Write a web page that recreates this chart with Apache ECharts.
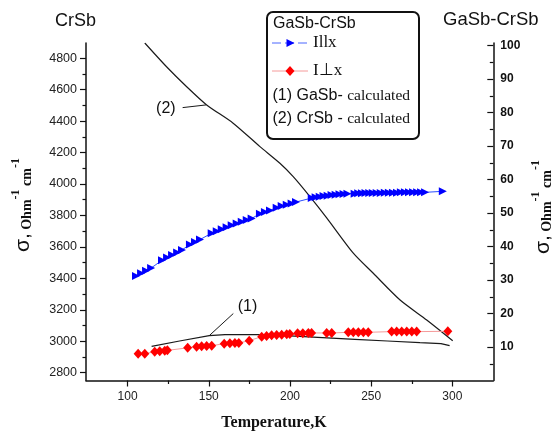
<!DOCTYPE html>
<html>
<head>
<meta charset="utf-8">
<script src="https://cdn.jsdelivr.net/npm/echarts@6/dist/echarts.min.js"></script>
<style>
  html, body { margin: 0; padding: 0; background: #fff; }
  #chart { width: 554px; height: 434px; }
</style>
</head>
<body>
<div id="chart"></div>
<script>
// GaSb-CrSb, current parallel to x (right axis)
const parallelTemperature = [
  105.2, 108.3, 111.4, 114.5,
  121.2, 124.3, 127.4, 130.5, 133.5,
  138.4, 141.5, 144.6,
  151.8, 154.9, 158.0, 161.0, 164.1, 167.2, 170.3, 173.4, 176.4,
  181.5, 184.6, 187.7,
  191.8, 194.9, 198.0, 201.0, 203.7,
  213.4, 215.8, 218.3, 220.7, 223.2, 225.6, 228.1, 230.5, 233.0, 235.4,
  239.8, 242.0, 244.3, 246.5, 248.8, 251.0,
  253.4, 255.9, 258.4, 260.9, 263.4, 265.9, 268.3, 270.8, 273.3, 275.8, 278.3, 280.7, 283.2,
  294.1
];
const parallelSigma = [
  31.2, 32.0, 32.8, 33.6,
  35.9, 36.7, 37.5, 38.2, 39.0,
  40.6, 41.4, 42.1,
  44.0, 44.6, 45.2, 45.8, 46.4, 46.9, 47.4, 47.9, 48.4,
  49.8, 50.3, 50.8,
  51.6, 52.1, 52.5, 52.9, 53.3,
  54.5, 54.7, 54.9, 55.1, 55.2, 55.4, 55.5, 55.6, 55.7, 55.8,
  55.8, 55.9, 55.9, 56.0, 56.0, 56.0,
  56.0, 56.0, 56.1, 56.1, 56.1, 56.1, 56.2, 56.2, 56.2, 56.2, 56.2, 56.2, 56.2,
  56.5
];

// GaSb-CrSb, current perpendicular to x (right axis)
const perpTemperature = [
  106.5, 110.6, 116.7, 119.8, 122.9, 124.5, 137.0, 142.5, 145.6, 148.7, 151.8,
  159.5, 163.0, 166.1, 168.5, 174.9, 182.6, 185.6, 188.7, 191.8, 194.9, 198.0,
  199.9, 204.7, 207.9, 211.3, 213.3, 222.6, 225.7, 235.9, 239.0, 242.1, 245.2,
  248.2, 262.6, 265.7, 268.8, 271.9, 275.0, 278.0, 297.2
];
const perpSigma = [
  8.0, 8.0, 8.6, 8.7, 8.9, 9.0, 9.75, 10.1, 10.25, 10.3, 10.4,
  11.0, 11.1, 11.2, 11.2, 11.9, 13.1, 13.3, 13.5, 13.6, 13.7, 13.8,
  13.9, 14.1, 14.1, 14.2, 14.2, 14.2, 14.2, 14.4, 14.4, 14.4, 14.4,
  14.4, 14.6, 14.6, 14.6, 14.6, 14.6, 14.6, 14.7
];

// (1) GaSb calculated (right axis)
const gasbCalcTemperature = [114.8, 132, 150.3, 160, 180, 200, 220, 240, 260, 280, 293, 298.3];
const gasbCalcSigma = [10.2, 11.8, 13.4, 13.7, 13.7, 13.3, 12.8, 12.3, 11.8, 11.3, 11.0, 10.4];

// (2) CrSb calculated (left axis)
const crsbCalcTemperature = [110.6, 124, 136.4, 148.7, 165, 181.5, 193.8, 202, 212.3, 222.6, 239, 251.3, 267.8, 284.2, 300.2];
const crsbCalcSigma = [4897, 4746, 4619, 4503, 4387, 4238, 4132, 4047, 3920, 3785, 3560, 3432, 3262, 3135, 3003];

// Tick values
const xTicks = [100, 150, 200, 250, 300];
const xMinorTicks = [125, 175, 225, 275];
const leftTicks = [2800, 3000, 3200, 3400, 3600, 3800, 4000, 4200, 4400, 4600, 4800];
const leftMinorTicks = [2900, 3100, 3300, 3500, 3700, 3900, 4100, 4300, 4500, 4700];
const rightTicks = [10, 20, 30, 40, 50, 60, 70, 80, 90, 100];
const rightMinorTicks = [5, 15, 25, 35, 45, 55, 65, 75, 85, 95];

const SANS = 'Liberation Sans';
const SERIF = 'Liberation Serif';
const INK = '#111';

function pairs(xs, ys) { return xs.map((x, i) => [x, ys[i]]); }
const plain = (v) => String(v);

const X_MIN = 74.4, X_MAX = 325.2;
const L_MIN = 2750, L_MAX = 4897;
const R_MIN = 0, R_MAX = 100.8;

function majorAxis(base, extra) {
  return Object.assign({
    type: 'value',
    splitLine: { show: false },
    axisLine: { show: true, onZero: false, lineStyle: { color: INK, width: 1.5 } },
  }, base, extra);
}

function minorAxis(base, ticks, inside) {
  return Object.assign({
    type: 'value',
    splitLine: { show: false },
    axisLine: { show: false },
    axisTick: { show: true, inside: !!inside, customValues: ticks, length: 3.5, lineStyle: { color: INK, width: 1.2 } },
    axisLabel: { show: false }
  }, base);
}

const sigmaTitle = (x, y) => ({
  type: 'text', x: x, y: y, rotation: Math.PI / 2,
  style: {
    text: '{s|σ,} {o|Ohm}{u|-1}{o| cm}{u|-1}',
    align: 'center', verticalAlign: 'middle', fill: INK,
    rich: {
      s: { fontSize: 21, fontFamily: SANS, verticalAlign: 'bottom', lineHeight: 24, fill: INK },
      o: { fontSize: 14, fontWeight: 'bold', fontFamily: SERIF, verticalAlign: 'bottom', lineHeight: 24, fill: INK },
      u: { fontSize: 12, fontWeight: 'bold', fontFamily: SERIF, verticalAlign: 'top', lineHeight: 12, fill: INK }
    }
  }
});

const chart = echarts.init(document.getElementById('chart'), null, { renderer: 'canvas' });

const option = {
  animation: false,
  backgroundColor: '#fff',
  grid: { left: 86, right: 60.7, top: 43, bottom: 53.5, containLabel: false },
  xAxis: [
    majorAxis({ min: X_MIN, max: X_MAX, position: 'bottom' }, {
      axisTick: { show: true, customValues: xTicks, length: 6, lineStyle: { color: INK, width: 1.2 } },
      axisLabel: { customValues: xTicks, formatter: plain, margin: 10, fontSize: 12, color: '#222', fontFamily: SANS }
    }),
    minorAxis({ min: X_MIN, max: X_MAX, position: 'bottom' }, xMinorTicks, false)
  ],
  yAxis: [
    majorAxis({ min: L_MIN, max: L_MAX, position: 'left' }, {
      axisTick: { show: true, customValues: leftTicks, length: 6, lineStyle: { color: INK, width: 1.2 } },
      axisLabel: { customValues: leftTicks, formatter: plain, margin: 9, fontSize: 12.5, color: '#222', fontFamily: SANS }
    }),
    minorAxis({ min: L_MIN, max: L_MAX, position: 'left' }, leftMinorTicks, false),
    majorAxis({ min: R_MIN, max: R_MAX, position: 'right' }, {
      axisTick: { show: true, inside: true, customValues: rightTicks, length: 6, lineStyle: { color: INK, width: 1.2 } },
      axisLabel: { customValues: rightTicks, formatter: plain, margin: 7, fontSize: 12, fontWeight: 'bold', color: '#111', fontFamily: SANS }
    }),
    minorAxis({ min: R_MIN, max: R_MAX, position: 'right' }, rightMinorTicks, true)
  ],
  series: [
    {
      name: 'CrSb calculated',
      type: 'line',
      yAxisIndex: 0,
      data: pairs(crsbCalcTemperature, crsbCalcSigma),
      showSymbol: false,
      symbol: 'none',
      smooth: 0.25,
      lineStyle: { color: '#1a1a1a', width: 1.2 },
      markLine: {
        silent: true,
        symbol: ['none', 'none'],
        label: { show: false },
        lineStyle: { type: 'solid', color: '#1a1a1a', width: 1 },
        data: [[{ coord: [133.9, 4486] }, { coord: [148.3, 4503] }]]
      },
      markPoint: {
        silent: true,
        symbol: 'circle',
        symbolSize: 0,
        label: { show: true, position: 'inside', formatter: '(2)', fontSize: 16, color: INK, fontFamily: SANS },
        data: [{ coord: [123.6, 4477] }]
      }
    },
    {
      name: 'GaSb calculated',
      type: 'line',
      yAxisIndex: 2,
      data: pairs(gasbCalcTemperature, gasbCalcSigma),
      showSymbol: false,
      symbol: 'none',
      lineStyle: { color: '#1a1a1a', width: 1.2 },
      markLine: {
        silent: true,
        symbol: ['none', 'none'],
        label: { show: false },
        lineStyle: { type: 'solid', color: '#1a1a1a', width: 1 },
        data: [[{ coord: [150.3, 13.4] }, { coord: [165.1, 20.0] }]]
      },
      markPoint: {
        silent: true,
        symbol: 'circle',
        symbolSize: 0,
        label: { show: true, position: 'inside', formatter: '(1)', fontSize: 16, color: INK, fontFamily: SANS },
        data: [{ coord: [173.8, 22.2] }]
      }
    },
    {
      name: 'I⊥x',
      type: 'line',
      yAxisIndex: 2,
      data: pairs(perpTemperature, perpSigma),
      symbol: 'diamond',
      symbolSize: [9, 10],
      itemStyle: { color: '#ff0000' },
      lineStyle: { color: '#f59a9a', width: 1 }
    },
    {
      name: 'Illx',
      type: 'line',
      yAxisIndex: 2,
      data: pairs(parallelTemperature, parallelSigma),
      symbol: 'triangle',
      symbolRotate: -90,
      symbolSize: 8,
      itemStyle: { color: '#0000ff' },
      lineStyle: { color: '#2a4dff', width: 1 }
    }
  ],
  graphic: [
    // panel titles
    { type: 'text', x: 55, y: 21, style: { text: 'CrSb', fontSize: 18, fontFamily: SANS, fill: INK, verticalAlign: 'middle' } },
    { type: 'text', x: 443, y: 19.5, style: { text: 'GaSb-CrSb', fontSize: 18.5, fontFamily: SANS, fill: INK, verticalAlign: 'middle' } },
    // axis names
    { type: 'text', x: 274, y: 423, style: { text: 'Temperature,K', fontSize: 16, fontWeight: 'bold', fontFamily: SERIF, fill: INK, align: 'center', verticalAlign: 'middle' } },
    sigmaTitle(22, 205),
    sigmaTitle(542, 207),
    // legend box
    { type: 'rect', shape: { x: 267, y: 12, width: 152, height: 127, r: 6 }, style: { fill: '#fff', stroke: INK, lineWidth: 2 }, z: 10 },
    { type: 'text', x: 273, y: 23.5, z: 11, style: { text: 'GaSb-CrSb', fontSize: 16, fontFamily: SANS, fill: INK, verticalAlign: 'middle' } },
    { type: 'polyline', z: 11, shape: { points: [[272, 43], [308, 43]] }, style: { stroke: '#4a66ff', lineWidth: 1, lineDash: [9, 4] } },
    { type: 'polygon', z: 12, shape: { points: [[286.5, 39], [294.5, 43], [286.5, 47]] }, style: { fill: '#0000ff' } },
    { type: 'text', x: 313, y: 43, z: 11, style: { text: 'Illx', fontSize: 17, fontFamily: SERIF, fill: INK, verticalAlign: 'middle' } },
    { type: 'polyline', z: 11, shape: { points: [[272, 71], [308, 71]] }, style: { stroke: '#f59a9a', lineWidth: 1 } },
    { type: 'polygon', z: 12, shape: { points: [[290, 66], [294.5, 71], [290, 76], [285.5, 71]] }, style: { fill: '#ff0000' } },
    { type: 'text', x: 313, y: 71, z: 11, style: { text: 'I⊥x', fontSize: 17, fontFamily: SERIF, fill: INK, verticalAlign: 'middle' } },
    {
      type: 'text', x: 272.5, y: 96, z: 11,
      style: {
        text: '{a|(1) GaSb- }{b|calculated}', verticalAlign: 'middle', fill: INK,
        rich: { a: { fontSize: 16, fontFamily: SANS, fill: INK }, b: { fontSize: 15.5, fontFamily: SERIF, fill: INK } }
      }
    },
    {
      type: 'text', x: 272.5, y: 119, z: 11,
      style: {
        text: '{a|(2) CrSb - }{b|calculated}', verticalAlign: 'middle', fill: INK,
        rich: { a: { fontSize: 16, fontFamily: SANS, fill: INK }, b: { fontSize: 15.5, fontFamily: SERIF, fill: INK } }
      }
    }
  ]
};

chart.setOption(option);
</script>
</body>
</html>
